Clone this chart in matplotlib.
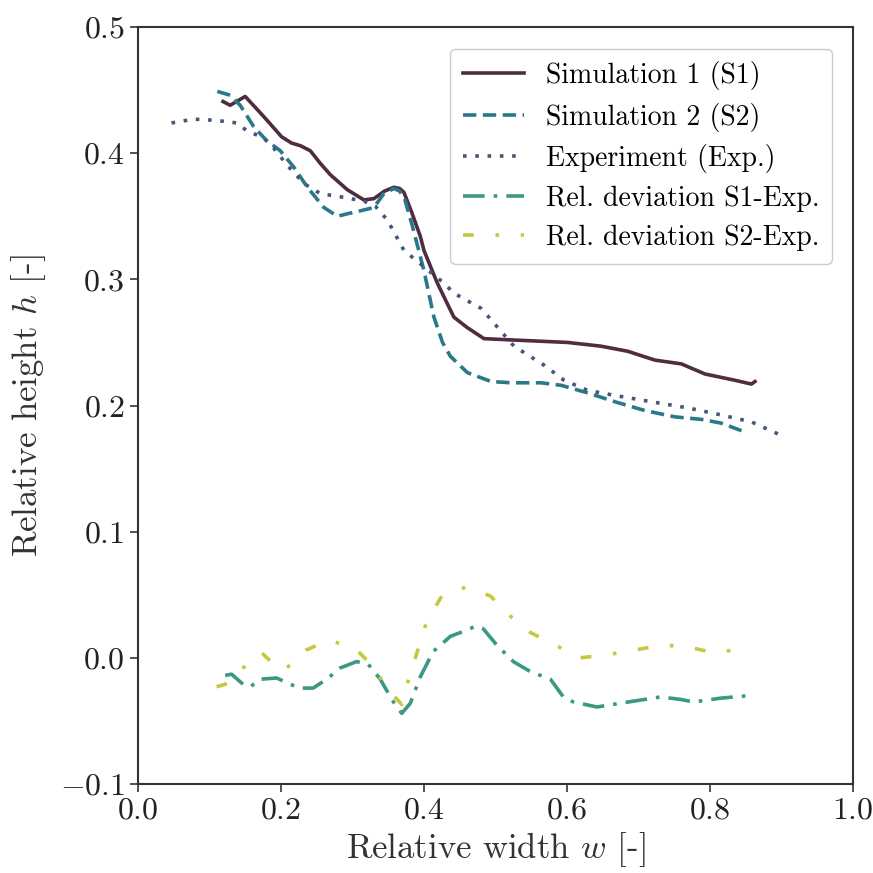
import matplotlib
matplotlib.use("Agg")
import matplotlib.pyplot as plt

plt.rcParams['font.family'] = ['cmr10', 'DejaVu Serif']
plt.rcParams['mathtext.fontset'] = 'cm'
plt.rcParams['axes.formatter.use_mathtext'] = True

# Simulation 1
s1_w = [0.119, 0.129, 0.150, 0.176, 0.201, 0.215, 0.227, 0.241, 0.255, 0.269, 0.293,
        0.316, 0.330, 0.345, 0.358, 0.366, 0.372, 0.383, 0.395, 0.400, 0.418, 0.435,
        0.442, 0.460, 0.484, 0.522, 0.601, 0.648, 0.685, 0.723, 0.760, 0.793, 0.835,
        0.858, 0.863]
s1_h = [0.441, 0.438, 0.445, 0.429, 0.413, 0.408, 0.406, 0.402, 0.392, 0.383, 0.371,
        0.363, 0.364, 0.370, 0.373, 0.372, 0.369, 0.353, 0.334, 0.323, 0.298, 0.278,
        0.270, 0.262, 0.253, 0.252, 0.250, 0.247, 0.243, 0.236, 0.233, 0.225, 0.220,
        0.217, 0.219]

# Simulation 2
s2_w = [0.111, 0.129, 0.143, 0.162, 0.180, 0.199, 0.218, 0.237, 0.260, 0.279, 0.293,
        0.316, 0.330, 0.344, 0.358, 0.366, 0.373, 0.384, 0.400, 0.414, 0.426, 0.437,
        0.461, 0.494, 0.522, 0.564, 0.592, 0.629, 0.667, 0.709, 0.751, 0.788, 0.816,
        0.849]
s2_h = [0.449, 0.446, 0.438, 0.421, 0.410, 0.402, 0.389, 0.373, 0.357, 0.350, 0.352,
        0.355, 0.357, 0.368, 0.372, 0.370, 0.364, 0.342, 0.307, 0.270, 0.250, 0.239,
        0.226, 0.219, 0.218, 0.218, 0.216, 0.210, 0.203, 0.196, 0.191, 0.189, 0.186,
        0.179]

# Experiment
ex_w = [0.047, 0.078, 0.110, 0.138, 0.152, 0.176, 0.190, 0.208, 0.232, 0.255, 0.288,
        0.316, 0.332, 0.349, 0.372, 0.400, 0.428, 0.442, 0.480, 0.503, 0.526, 0.568,
        0.596, 0.629, 0.667, 0.718, 0.770, 0.812, 0.858, 0.905]
ex_h = [0.424, 0.427, 0.426, 0.424, 0.418, 0.412, 0.404, 0.391, 0.376, 0.368, 0.365,
        0.362, 0.358, 0.347, 0.323, 0.310, 0.297, 0.289, 0.277, 0.262, 0.247, 0.232,
        0.220, 0.212, 0.208, 0.203, 0.198, 0.193, 0.187, 0.175]

# Rel. deviation S1-Exp
d1_w = [0.122, 0.131, 0.147, 0.157, 0.171, 0.194, 0.213, 0.227, 0.245, 0.264, 0.283,
        0.306, 0.322, 0.339, 0.355, 0.369, 0.381, 0.395, 0.413, 0.437, 0.460, 0.472,
        0.483, 0.502, 0.525, 0.549, 0.577, 0.595, 0.609, 0.642, 0.675, 0.731, 0.759,
        0.777, 0.815, 0.854]
d1_h = [-0.014, -0.013, -0.021, -0.023, -0.017, -0.016, -0.021, -0.024, -0.024, -0.017,
        -0.008, -0.003, -0.005, -0.017, -0.033, -0.044, -0.036, -0.015, 0.005, 0.017,
        0.022, 0.025, 0.023, 0.010, -0.003, -0.011, -0.017, -0.031, -0.035, -0.039,
        -0.036, -0.031, -0.033, -0.035, -0.032, -0.030]

# Rel. deviation S2-Exp
d2_w = [0.110, 0.122, 0.147, 0.173, 0.199, 0.210, 0.235, 0.266, 0.297, 0.308, 0.329,
        0.348, 0.369, 0.381, 0.392, 0.404, 0.425, 0.458, 0.493, 0.521, 0.549, 0.584,
        0.619, 0.652, 0.693, 0.733, 0.767, 0.805, 0.845]
d2_h = [-0.023, -0.021, -0.008, 0.004, -0.010, -0.007, 0.006, 0.014, 0.009, 0.005,
        -0.007, -0.024, -0.037, -0.012, 0.007, 0.029, 0.049, 0.056, 0.049, 0.033,
        0.020, 0.010, 0.000, 0.002, 0.006, 0.010, 0.009, 0.004, 0.007]

fig = plt.figure(figsize=(8.73, 8.73), dpi=100)
ax = fig.add_axes([0.158, 0.102, 0.819, 0.867])

lw = 2.6
ax.plot(s1_w, s1_h, color='#4f2c3f', lw=lw, label='Simulation 1 (S1)')
ax.plot(s2_w, s2_h, color='#2a7888', lw=lw, ls=(0, (3.7, 1.8)), label='Simulation 2 (S2)')
ax.plot(ex_w, ex_h, color='#465679', lw=lw, ls=(0, (1, 2.4)), label='Experiment (Exp.)')
ax.plot(d1_w, d1_h, color='#3b9883', lw=lw, ls=(0, (6, 2.5, 1, 2.5)),
        label='Rel. deviation S1-Exp.')
ax.plot(d2_w, d2_h, color='#c6c83e', lw=lw, ls=(0, (3, 6, 1, 6)),
        label='Rel. deviation S2-Exp.')

ax.set_xlim(0, 1.0)
ax.set_ylim(-0.1, 0.5)
ax.set_xticks([0.0, 0.2, 0.4, 0.6, 0.8, 1.0])
ax.set_yticks([-0.1, 0.0, 0.1, 0.2, 0.3, 0.4, 0.5])
ax.tick_params(labelsize=23, length=6, width=1.2, color='#333333', labelcolor='#222222')
for sp in ax.spines.values():
    sp.set_linewidth(1.5)
    sp.set_color('#333333')

ax.set_xlabel('Relative width $w$ [-]', fontsize=25, color='#333333', labelpad=4)
ax.set_ylabel('Relative height $h$ [-]', fontsize=25, color='#333333', labelpad=8)

leg = ax.legend(loc='upper right', fontsize=20, fancybox=True, framealpha=1,
                handlelength=2.2, borderpad=0.45, labelspacing=0.45,
                bbox_to_anchor=(0.99, 0.99))
leg.get_frame().set_edgecolor('#cccccc')

fig.savefig('out.png', dpi=100)
